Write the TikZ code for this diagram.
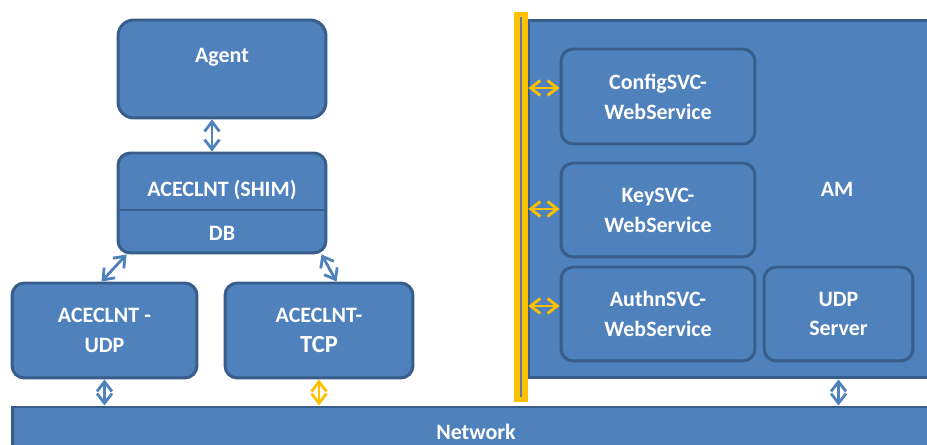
\documentclass[tikz,border=0pt]{standalone}
\usepackage{fontspec}
\setmainfont{Carlito}
\usetikzlibrary{arrows.meta}
\definecolor{boxblue}{HTML}{4F81BD}
\definecolor{edgeblue}{HTML}{385D8A}
\definecolor{linkorange}{HTML}{FFC000}

\begin{document}
\begin{tikzpicture}[x=0.02cm, y=-0.02cm,
        block/.style={draw=edgeblue, line width=1.7pt, fill=boxblue, rounded corners=7pt, text=white,
            font=\bfseries\fontsize{12.5}{17}\selectfont, align=center, inner sep=0pt},
        plain/.style={block, rounded corners=0pt},
        caption/.style={text=white, font=\bfseries\fontsize{12.5}{17}\selectfont, inner sep=0pt},
        link/.style={{Straight Barb[length=5.5pt,width=8.5pt]}-{Straight Barb[length=5.5pt,width=8.5pt]}, line width=1.6pt, draw=boxblue},
        orangelink/.style={link, draw=linkorange}
    ]
        \clip (0,0) rectangle (927,445);
        \fill[white] (0,0) rectangle (927,445);

        \node[plain, minimum width=18.96cm, minimum height=1.06cm] (network) at (486,433.5) {};
        \node[caption] (networktxt) at (476,432) {Network};

        \node[plain, minimum width=8.64cm, minimum height=7.16cm] (am) at (744,199) {};
        \node[caption] (amtxt) at (837,189) {AM};

        \node[fill=linkorange, minimum width=0.28cm, minimum height=7.8cm, inner sep=0pt] (bus) at (521,207) {};
        \draw[edgeblue!80, line width=0.6pt] ([yshift=-0.1cm]bus.north) -- ([yshift=0.1cm]bus.south);

        \node[block, minimum width=4.16cm, minimum height=1.96cm, rounded corners=9pt] (agent) at (222,69) {};
        \node[caption] (agenttxt) at (222,57) {Agent};

        \node[block, minimum width=4.16cm, minimum height=2cm] (shim) at (222,203) {};
        \draw[edgeblue, line width=1.7pt] (shim.west |- 0,210) -- (shim.east |- 0,210);
        \node[caption] (shimtxt) at (222,190) {ACECLNT (SHIM)};
        \node[caption] (dbtxt) at (222,233) {DB};

        \node[block, minimum width=3.7cm, minimum height=1.9cm] (udpclnt) at (104.5,330.5) {ACECLNT -\\UDP};
        \node[block, minimum width=3.76cm, minimum height=1.9cm] (tcpclnt) at (319,330.5) {ACECLNT-\\{\fontsize{14}{17}\selectfont TCP}};

        \node[block, minimum width=3.88cm, minimum height=1.9cm] (configsvc) at (658,96.5) {ConfigSVC-\\WebService};
        \node[block, minimum width=3.88cm, minimum height=1.88cm] (keysvc) at (658,210) {KeySVC-\\WebService};
        \node[block, minimum width=3.88cm, minimum height=1.88cm] (authnsvc) at (658,314) {AuthnSVC-\\WebService};
        \node[block, minimum width=2.98cm, minimum height=1.88cm] (udpsrv) at (838.5,314) {UDP\\Server};

        \draw[link] ([xshift=-0.2cm]agent.south) -- ([xshift=-0.2cm]shim.north);
        \draw[link] ([xshift=0.2cm]shim.south west) -- ([xshift=1.82cm]udpclnt.north west);
        \draw[link] ([xshift=-0.12cm]shim.south east) -- ([xshift=2.26cm]tcpclnt.north west);
        \draw[link] (udpclnt.south) -- (udpclnt.south |- network.north);
        \draw[orangelink] (tcpclnt.south) -- (tcpclnt.south |- network.north);
        \draw[link] (udpsrv.south |- am.south) -- (udpsrv.south |- network.north);

        \draw[orangelink] (bus.east |- 0,88) -- (configsvc.west |- 0,88);
        \draw[orangelink] (bus.east |- 0,209) -- (keysvc.west |- 0,209);
        \draw[orangelink] (bus.east |- 0,306) -- (authnsvc.west |- 0,306);
    \end{tikzpicture}
\end{document}
